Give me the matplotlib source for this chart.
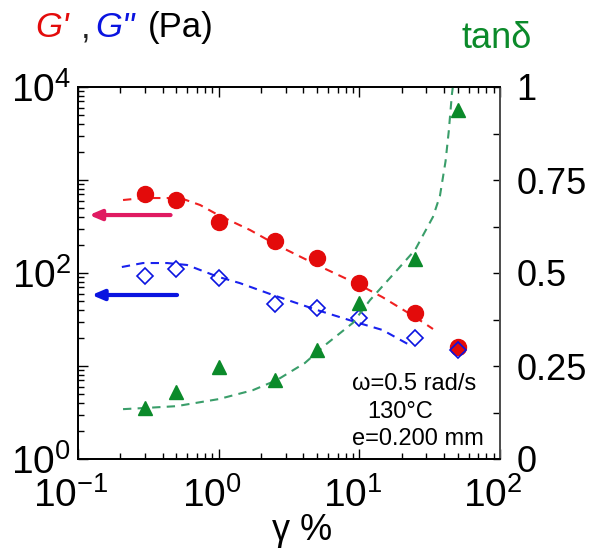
import matplotlib
matplotlib.use("Agg")
import matplotlib.pyplot as plt
import matplotlib.ticker as mticker
import matplotlib.transforms as mtrans

plt.rcParams['font.family'] = ['Liberation Sans', 'DejaVu Sans']
plt.rcParams['mathtext.fontset'] = 'custom'
plt.rcParams['mathtext.rm'] = 'Liberation Sans'
plt.rcParams['mathtext.it'] = 'Liberation Sans:italic'

# ---- data ----
strain = [0.30, 0.50, 1.0, 2.5, 5.0, 10.0, 25.0, 50.0]
g_storage = [707, 609, 353, 221, 145, 78, 37, 16]
g_loss = [93, 110, 88, 46, 42, 33, 20, 14.9]
tan_delta = [0.137, 0.180, 0.247, 0.212, 0.293, 0.419, 0.538, 0.938]

fit_gs_x = [0.209, 0.290, 0.429, 0.558, 0.739, 0.99, 1.67, 2.59, 5.0, 10.1, 14.6, 24.9, 33.4]
fit_gs_y = [609, 640, 640, 625, 538, 421, 290, 200, 122, 74, 55, 33.6, 25]
fit_gl_x = [0.205, 0.29, 0.43, 0.595, 0.99, 1.41, 2.43, 5.0, 9.9, 14.6, 22.8]
fit_gl_y = [116, 128, 128, 122, 91, 78, 58, 40, 29, 24.4, 16.8]
fit_tan_x = [0.209, 0.294, 0.50, 1.0, 1.75, 2.59, 4.1, 5.7, 9.0, 11.9, 19.4, 24.9, 33.4, 37.4, 41.0, 43.2, 45.5, 46.2]
fit_tan_y = [0.134, 0.137, 0.142, 0.161, 0.185, 0.212, 0.258, 0.306, 0.366, 0.427, 0.516, 0.562, 0.651, 0.707, 0.80, 0.88, 0.98, 1.0]

arrow_gs = (0.12, 0.455, 420)   # x tip, x tail, y
arrow_gl = (0.125, 0.506, 58)

x_ticks = [0.1, 1, 10, 100]
x_ticklabels = [r'$10^{-1}$', r'$10^{0}$', r'$10^{1}$', r'$10^{2}$']
y_ticks = [1, 10, 100, 1000, 10000]
y_ticklabels = [r'$10^{0}$', '', r'$10^{2}$', '', r'$10^{4}$']
tan_ticks = [0, 0.25, 0.5, 0.75, 1]
tan_ticklabels = ['0', '0.25', '0.5', '0.75', '1']

RED = '#e30b0b'
BLUE = '#0a14e0'
GREEN = '#0b8a2a'
GREENLINE = '#3a9e6a'
PINK = '#e01b62'

fig = plt.figure(figsize=(5.95, 5.5), dpi=100)
ax = fig.add_axes([78/595, 1-459/550, 422/595, 372/550])
ax.set_xscale('log')
ax.set_yscale('log')
ax.set_xlim(0.1, 100)
ax.set_ylim(1, 1e4)

ax2 = ax.twinx()
ax2.set_ylim(0, 1)

# fits
ax.plot(fit_gs_x, fit_gs_y, ls=(0, (4, 3)), color='#f02020', lw=1.5, zorder=2)
ax.plot(fit_gl_x, fit_gl_y, ls=(0, (4, 3)), color='#1a22ee', lw=1.5, zorder=2)
ax2.plot(fit_tan_x, fit_tan_y, ls=(0, (4, 3)), color=GREENLINE, lw=1.5, zorder=2)

# data
ax.plot(strain, g_storage, 'o', color=RED, ms=11.5, mec=RED, zorder=3)
ax.plot(strain, g_loss, 'D', mfc='none', mec=BLUE, mew=1.2, ms=8, zorder=4)
ax2.plot(strain, tan_delta, '^', color=GREEN, ms=10.5, zorder=3)

# arrows
for (xt, xs, yv), c in [(arrow_gs, PINK), (arrow_gl, BLUE)]:
    ax.annotate('', xy=(xt, yv), xytext=(xs, yv),
                arrowprops=dict(arrowstyle='-|>,head_length=0.7,head_width=0.3',
                                color=c, lw=3, shrinkA=0, shrinkB=0))

# ticks
ax.set_xticks(x_ticks)
ax.set_xticklabels(x_ticklabels)
ax.xaxis.set_minor_locator(mticker.LogLocator(base=10, subs=range(2, 10), numticks=20))
ax.xaxis.set_minor_formatter(mticker.NullFormatter())
ax.set_yticks(y_ticks)
ax.set_yticklabels(y_ticklabels)
ax.yaxis.set_minor_locator(mticker.LogLocator(base=10, subs=range(2, 10), numticks=20))
ax.yaxis.set_minor_formatter(mticker.NullFormatter())

ax.tick_params(axis='x', which='both', direction='in', top=True, bottom=True, labelsize=28, pad=13)
ax.tick_params(axis='x', which='major', length=7, width=1)
ax.tick_params(axis='x', which='minor', length=4, width=1)
ax.tick_params(axis='y', which='both', direction='in', left=True, right=False, labelsize=28, pad=5)
ax.tick_params(axis='y', which='major', length=7, width=1)
ax.tick_params(axis='y', which='minor', length=4, width=1)

ax2.set_yticks(tan_ticks)
ax2.set_yticklabels(tan_ticklabels)
ax2.yaxis.set_minor_locator(mticker.MultipleLocator(0.125))
ax2.tick_params(axis='y', which='both', direction='in', right=True, labelsize=26, pad=12)
ax2.tick_params(axis='y', which='major', length=5, width=1)
ax2.tick_params(axis='y', which='minor', length=5, width=1)

for lab in ax.get_xticklabels():
    lab.set_transform(lab.get_transform() + mtrans.ScaledTranslation(-5/72, 0, fig.dpi_scale_trans))

for a in (ax, ax2):
    for s in a.spines.values():
        s.set_linewidth(1.3)
ax2.spines['right'].set_color('#555555')

# titles / labels
fig.text(35/595, 1-37/550, "G'", color=RED, fontsize=25, fontstyle='italic', ha='left', va='baseline')
fig.text(81/595, 1-37/550, ",", color='#222222', fontsize=25, ha='left', va='baseline')
fig.text(95/595, 1-37/550, 'G"', color=BLUE, fontsize=25, fontstyle='italic', ha='left', va='baseline')
fig.text(148/595, 1-37/550, "(Pa)", color='black', fontsize=25, ha='left', va='baseline')
fig.text(462/595, 1-48/550, "tanδ", color=GREEN, fontsize=26, ha='left', va='baseline')
fig.text(272/595, 1-540/550, "γ %", color='black', fontsize=26, ha='left', va='baseline')

fig.text(352/595, 1-390/550, "ω=0.5 rad/s", fontsize=17, ha='left', va='baseline')
fig.text(367/595, 1-418/550, "130°C", fontsize=17, ha='left', va='baseline')
fig.text(352/595, 1-445/550, "e=0.200 mm", fontsize=17, ha='left', va='baseline')

fig.savefig('out.png', dpi=100)
